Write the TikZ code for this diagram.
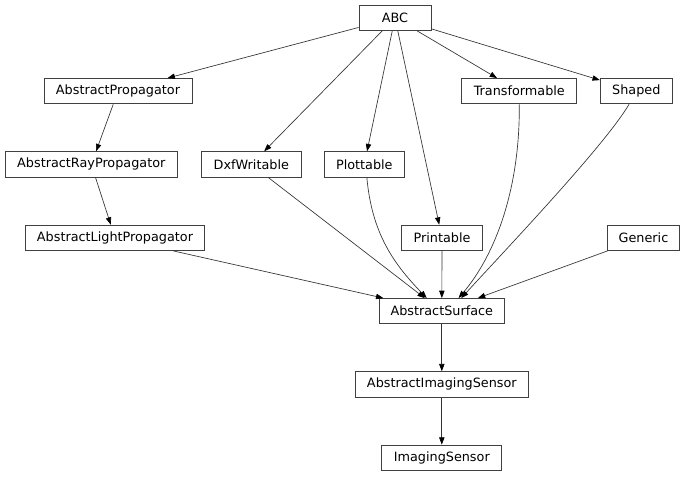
\documentclass[tikz,border=0pt]{standalone}
\usepackage{fontspec}
\setmainfont{DejaVu Sans}
\usetikzlibrary{arrows.meta}
\tikzset{
  box/.style={draw=black!75, line width=0.7pt, fill=white, inner sep=0pt,
    minimum height=19pt, font=\fontsize{9.6pt}{11pt}\selectfont, text=black},
  wd/.style={minimum width=#1*0.75pt},
  edge/.style={draw=black!80, line width=0.5pt, -{Triangle[length=5.5pt,width=4pt,color=black]}},
}
\begin{document}
\begin{tikzpicture}[x=0.75pt, y=-0.75pt]
\useasboundingbox (0,0) rectangle (685,476);
% row 1
\node[box, wd=72] (abc) at (395,17.8) {ABC};
% row 2
\node[box, wd=148] (ap) at (118,91.2) {AbstractPropagator};
\node[box, wd=114.7] (tr) at (519.3,91.2) {Transformable};
\node[box, wd=72] (sh) at (636.3,91.2) {Shaped};
% row 3
\node[box, wd=172] (arp) at (91.3,164.4) {AbstractRayPropagator};
\node[box, wd=100] (dxf) at (251.3,164.4) {DxfWritable};
\node[box, wd=80] (pl) at (364.3,164.4) {Plottable};
% row 4
\node[box, wd=178.6] (alp) at (115,237.8) {AbstractLightPropagator};
\node[box, wd=80.6] (pr) at (442,237.8) {Printable};
\node[box, wd=72.4] (gen) at (643.5,237.8) {Generic};
% row 5-7
\node[box, wd=125] (as) at (441.8,311.2) {AbstractSurface};
\node[box, wd=173] (ais) at (441.8,384.4) {AbstractImagingSensor};
\node[box, wd=119.7] (is) at (441.8,457.8) {ImagingSensor};
% edges
\draw[edge] (abc) -- (ap);
\draw[edge] (abc) -- (dxf);
\draw[edge] (abc) -- (pl);
\draw[edge] (abc) -- (pr);
\draw[edge] (abc) -- (tr);
\draw[edge] (abc) -- (sh);
\draw[edge] (ap) -- (arp);
\draw[edge] (arp) -- (alp);
\draw[edge] (alp) -- (as);
\draw[edge] (dxf) -- (as);
\draw[edge] (pl.-79) .. controls (372,235) and (395,265) .. (as.139);
\draw[edge] (pr) -- (as);
\draw[edge] (tr.south) .. controls (520,190) and (495,255) .. (as.38.4);
\draw[edge] (sh.241) .. controls (605,145) and (510,245) .. (as.34.2);
\draw[edge] (gen) -- (as);
\draw[edge] (as) -- (ais);
\draw[edge] (ais) -- (is);
\end{tikzpicture}
\end{document}
